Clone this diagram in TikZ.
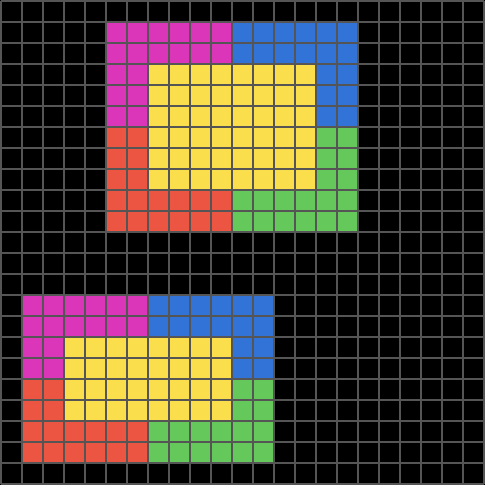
\documentclass[tikz,border=0pt]{standalone}
\definecolor{cmag}{RGB}{219,54,185}
\definecolor{cblue}{RGB}{50,115,215}
\definecolor{cyel}{RGB}{250,222,76}
\definecolor{cred}{RGB}{236,85,66}
\definecolor{cgreen}{RGB}{100,200,90}
\definecolor{cgrid}{RGB}{85,85,85}
\tikzset{
  gridline/.style={draw=cgrid, line width=0.12cm},
}
\begin{document}
\begin{tikzpicture}[x=1cm,y=-1cm]
\useasboundingbox (-0.0476,-0.0476) rectangle (23.0476,23.0476);
\fill[black] (-0.0476,-0.0476) rectangle (23.0476,23.0476);
% top figure
\fill[cmag] (5,1) rectangle (11,3);
\fill[cmag] (5,3) rectangle (7,6);
\fill[cblue] (11,1) rectangle (17,3);
\fill[cblue] (15,3) rectangle (17,6);
\fill[cyel] (7,3) rectangle (15,9);
\fill[cred] (5,6) rectangle (7,9);
\fill[cred] (5,9) rectangle (11,11);
\fill[cgreen] (15,6) rectangle (17,9);
\fill[cgreen] (11,9) rectangle (17,11);
% bottom figure
\fill[cmag] (1,14) rectangle (7,16);
\fill[cmag] (1,16) rectangle (3,18);
\fill[cblue] (7,14) rectangle (13,16);
\fill[cblue] (11,16) rectangle (13,18);
\fill[cyel] (3,16) rectangle (11,20);
\fill[cred] (1,18) rectangle (3,20);
\fill[cred] (1,20) rectangle (7,22);
\fill[cgreen] (11,18) rectangle (13,20);
\fill[cgreen] (7,20) rectangle (13,22);
% grid
\draw[gridline] (0,0) grid (23,23);
\end{tikzpicture}
\end{document}
